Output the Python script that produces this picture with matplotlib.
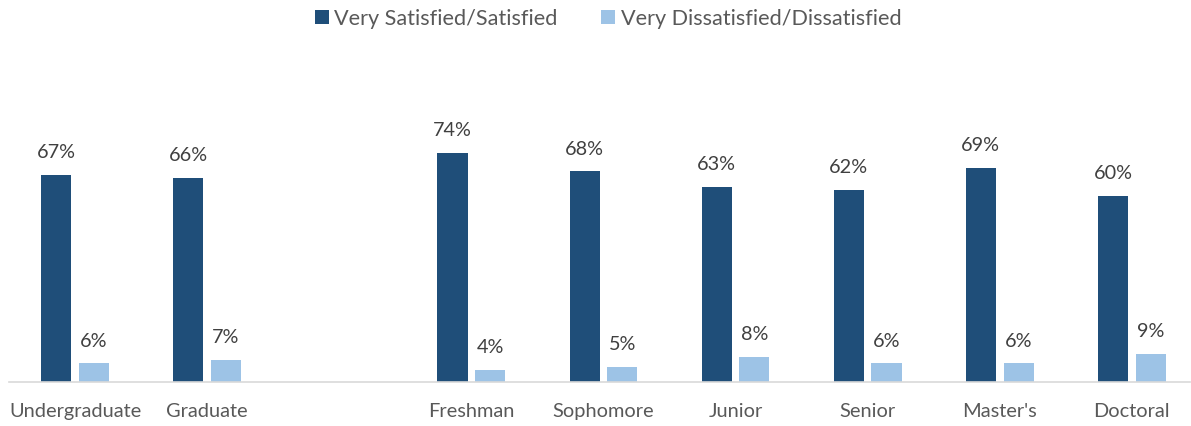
import matplotlib.pyplot as plt
import numpy as np

plt.rcParams["font.family"] = ["Lato", "DejaVu Sans"]

categories = ["Undergraduate", "Graduate", "", "Freshman", "Sophomore",
              "Junior", "Senior", "Master's", "Doctoral"]
satisfied = [67, 66, None, 74, 68, 63, 62, 69, 60]
dissatisfied = [6, 7, None, 4, 5, 8, 6, 6, 9]

dark = "#1F4E79"
light = "#9DC3E6"
text_color = "#595959"

fig = plt.figure(figsize=(11.91, 4.26), dpi=100)
ax = fig.add_axes([9 / 1191, 44 / 426, 1181 / 1191, 322 / 426])

x = np.arange(len(categories))
width = 0.228
off = 0.143

for i in range(len(categories)):
    if satisfied[i] is None:
        continue
    b1 = ax.bar(x[i] - off, satisfied[i], width, color=dark,
                label="Very Satisfied/Satisfied" if i == 0 else None)
    b2 = ax.bar(x[i] + off, dissatisfied[i], width, color=light,
                label="Very Dissatisfied/Dissatisfied" if i == 0 else None)
    ax.bar_label(b1, labels=[f"{satisfied[i]}%"], padding=10,
                 fontsize=14.3, color="#404040")
    ax.bar_label(b2, labels=[f"{dissatisfied[i]}%"], padding=10,
                 fontsize=14.3, color="#404040")

ax.set_xlim(-0.5, -0.5 + 1181 / 132.1)
ax.set_ylim(0, 104)
ax.set_xticks(x)
ax.set_xticklabels(categories, fontsize=14.4, color=text_color)
ax.tick_params(axis="x", length=0, pad=15)
ax.set_yticks([])
for s in ["top", "left", "right"]:
    ax.spines[s].set_visible(False)
ax.spines["bottom"].set_color("#d9d9d9")
ax.spines["bottom"].set_linewidth(1.2)

leg = fig.legend(loc="upper center", bbox_to_anchor=(608 / 1191, 1.025), ncol=2,
                 frameon=False, fontsize=15.6, handlelength=0.65,
                 handleheight=0.65, columnspacing=2.0, handletextpad=0.25)
for t in leg.get_texts():
    t.set_color(text_color)

fig.savefig("out.png", dpi=100)
